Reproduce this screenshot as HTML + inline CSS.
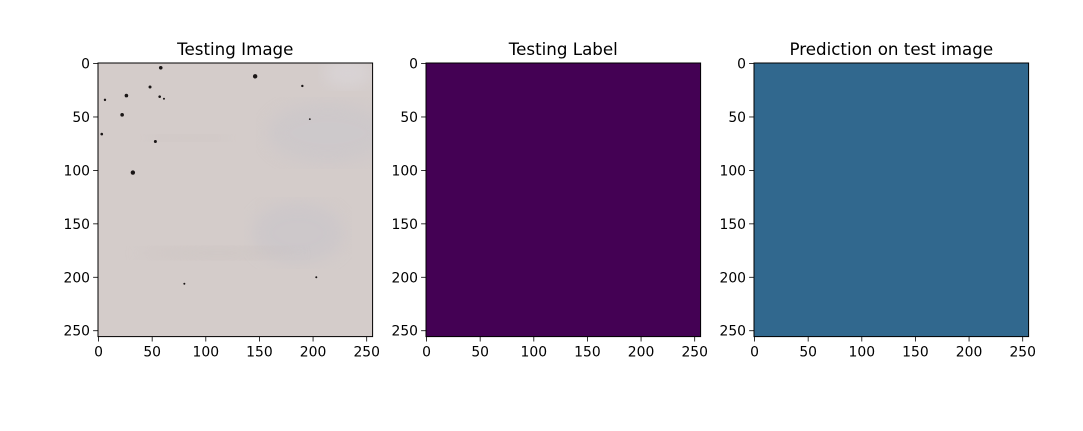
<!DOCTYPE html>
<html><head><meta charset="utf-8"><style>
body{margin:0;background:#fff;}
svg{display:block;font-family:"DejaVu Sans","Liberation Sans",sans-serif;}
</style></head><body>
<svg id="fig" width="1083" height="431" viewBox="0 0 1083 431" xmlns="http://www.w3.org/2000/svg">
<defs>
<clipPath id="c1"><rect x="98" y="63" width="274.6" height="273.6"/></clipPath>
<filter id="blur"><feGaussianBlur stdDeviation="8"/></filter>
</defs>
<g id="root"></g>
</svg>
<script>
const panelTitles=["Testing Image","Testing Label","Prediction on test image"];
const panelFills=["#d4ccca","#440154","#31688e"];
const xTicks=[0,50,100,150,200,250];
const yTicks=[0,50,100,150,200,250];
const imgSize=256;
const spotX=[58,146,48,26,22,32,3,53,57,190,6,61,203,197,80];
const spotY=[4,12,22,30,48,102,66,73,31,21,34,33,200,52,206];
const spotR=[1.8,2.2,1.5,1.8,1.8,2.2,1.3,1.5,1.3,1.2,1.2,1.0,1.0,0.9,1.0];
const NS="http://www.w3.org/2000/svg";
const root=document.getElementById('root');
function mk(tag,attrs,parent){const e=document.createElementNS(NS,tag);for(const k in attrs)e.setAttribute(k,attrs[k]);(parent||root).appendChild(e);return e;}
const L0=98,T0=63,W=274.6,H=273.6,DX=328;
panelTitles.forEach((t,i)=>{
  const left=L0+i*DX;
  const sx=v=>left+(v+0.5)*W/imgSize;
  const sy=v=>T0+(v+0.5)*H/imgSize;
  const g=mk('g',{});
  
  
  const r=mk('rect',{x:left,y:T0,width:W,height:H,fill:panelFills[i]},g);
  
  
  if(i===0){
    const tg=mk('g',{'clip-path':'url(#c1)'},g);
    
    
    mk('ellipse',{cx:left+230,cy:T0+70,rx:60,ry:30,fill:'#c9c6cb',filter:'url(#blur)',opacity:0.6},tg);
    mk('ellipse',{cx:left+200,cy:T0+170,rx:45,ry:30,fill:'#c8c5ca',filter:'url(#blur)',opacity:0.6},tg);
    mk('ellipse',{cx:left+250,cy:T0+10,rx:25,ry:15,fill:'#dcd8dc',filter:'url(#blur)',opacity:0.6},tg);
    mk('ellipse',{cx:left+120,cy:T0+190,rx:80,ry:6,fill:'#c8c0be',filter:'url(#blur)',opacity:0.5},tg);
    mk('ellipse',{cx:left+90,cy:T0+75,rx:40,ry:3,fill:'#c4bcba',filter:'url(#blur)',opacity:0.5},tg);
    spotX.forEach((x,k)=>{
      const c=mk('circle',{cx:sx(spotX[k]),cy:sy(spotY[k]),r:spotR[k],fill:'#1a1616'},tg);
      
      
    });
  }
  const f=mk('rect',{x:left,y:T0,width:W,height:H,fill:'none',stroke:'#000','stroke-width':1},g);
  
  
  const tt=mk('text',{x:left+W/2,y:55,'text-anchor':'middle','font-size':16.7,fill:'#000'},g);
  tt.textContent=t;
  
  
  xTicks.forEach(v=>{
    const x=sx(v);
    mk('line',{x1:x,x2:x,y1:T0+H,y2:T0+H+4.9,stroke:'#000','stroke-width':0.8},g);
    const tx=mk('text',{x:x,y:T0+H+20,'text-anchor':'middle','font-size':13.9,fill:'#000'},g);
    tx.textContent=v;
    
    
  });
  yTicks.forEach(v=>{
    const y=sy(v);
    mk('line',{x1:left-4.9,x2:left,y1:y,y2:y,stroke:'#000','stroke-width':0.8},g);
    const ty=mk('text',{x:left-8,y:y+5,'text-anchor':'end','font-size':13.9,fill:'#000'},g);
    ty.textContent=v;
    
    
  });
});
</script>
</body></html>
